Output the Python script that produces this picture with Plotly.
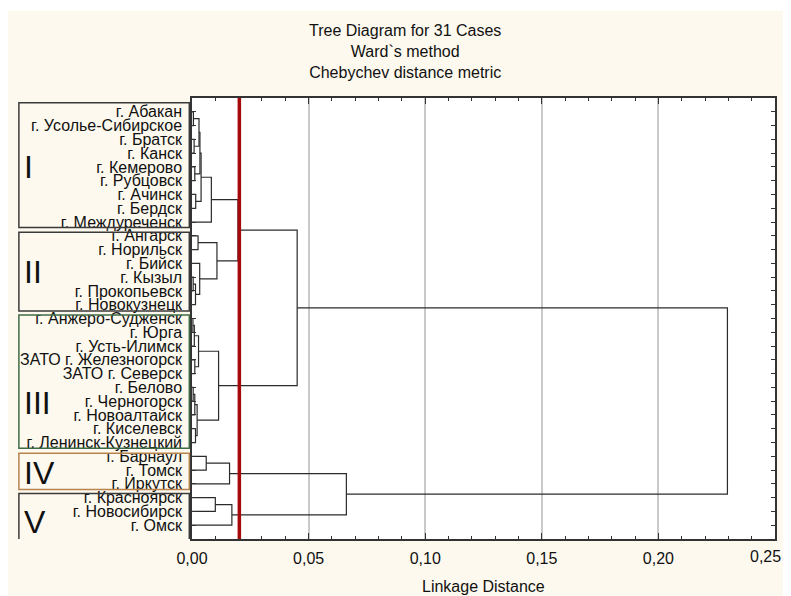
import plotly.graph_objects as go

# ---------------- data ----------------
leaf_names = [
    "г. Абакан", "г. Усолье-Сибирское", "г. Братск", "г. Канск", "г. Кемерово",
    "г. Рубцовск", "г. Ачинск", "г. Бердск", "г. Междуреченск",
    "г. Ангарск", "г. Норильск", "г. Бийск", "г. Кызыл", "г. Прокопьевск",
    "г. Новокузнецк",
    "г. Анжеро-Судженск", "г. Юрга", "г. Усть-Илимск", "ЗАТО г. Железногорск",
    "ЗАТО г. Северск", "г. Белово", "г. Черногорск", "г. Новоалтайск",
    "г. Киселевск", "г. Ленинск-Кузнецкий",
    "г. Барнаул", "г. Томск", "г. Иркутск",
    "г. Красноярск", "г. Новосибирск", "г. Омск",
]

# linkage: (cluster a, cluster b, linkage distance); new cluster id = 31 + row index
merge_a = [0, 2, 31, 4, 33, 6, 35, 37, 9, 12, 40, 11, 39, 38,
           15, 45, 18, 46, 20, 49, 23, 50, 48, 44, 25, 55, 28, 57, 56, 54]
merge_b = [1, 3, 32, 5, 34, 7, 36, 8, 10, 13, 14, 41, 42, 43,
           16, 17, 19, 47, 21, 22, 24, 51, 52, 53, 26, 27, 29, 30, 58, 59]
merge_h = [0.0006, 0.0009, 0.0030, 0.0012, 0.0034, 0.0016, 0.0039, 0.0083,
           0.0026, 0.0005, 0.0015, 0.0033, 0.0107, 0.0197,
           0.0004, 0.0010, 0.0012, 0.0028, 0.0005, 0.0012, 0.0015, 0.0022,
           0.0114, 0.0451, 0.0061, 0.0161, 0.0100, 0.0171, 0.0662, 0.2296]

cut_distance = 0.0203

group_labels = ["I", "II", "III", "IV", "V"]
group_first = [0, 9, 15, 25, 28]
group_last = [8, 14, 24, 27, 30]

x_ticks = [0.00, 0.05, 0.10, 0.15, 0.20, 0.25]


def fmt(v):
    return f"{v:.2f}".replace(".", ",")


# ---------------- geometry from the linkage ----------------
n = len(leaf_names)
pos = {i: float(i) for i in range(n)}
hgt = {i: 0.0 for i in range(n)}
xs, ys = [], []
for k, (a, b, h) in enumerate(zip(merge_a, merge_b, merge_h)):
    xs += [hgt[a], h, h, hgt[b], None]
    ys += [pos[a], pos[a], pos[b], pos[b], None]
    pos[n + k] = (pos[a] + pos[b]) / 2
    hgt[n + k] = h

FONT = "Liberation Sans, Arial, sans-serif"
CREAM = "#fdf9ee"

fig = go.Figure()
fig.add_trace(go.Scatter(x=xs, y=ys, mode="lines",
                         line=dict(color="#2b2b2b", width=1.2),
                         hoverinfo="skip", showlegend=False))

# page layout (page has an 8px body margin)
OX, OY = 8, 8
FW, FH = 791 - OX, 596 - OY
PL, PR, PT, PB = 191.7, 775.0, 98.3, 539.3   # plot area in page pixels
W = PR - PL
H = PB - PT


def px(x):
    return (x - PL) / W


def py(y):
    return (PB - y) / H


shapes = []
# thin white strip at the very top of the page
shapes.append(dict(type="rect", xref="paper", yref="paper", x0=px(0), x1=px(800),
                   y0=py(11), y1=py(0), fillcolor="white", line=dict(width=0), layer="below"))

# group boxes
box_colors = ["#3a3a3a", "#3a3a3a", "#3f6b46", "#b7834f", "#3a3a3a"]
top_pad = [0.65, 0.25, 0.25, 0.22, 0.3]
bot_pad = [0.4, 0.45, 0.42, 0.4, 1.1]
numeral_rows = [4.0, 11.6, 21.1, 26.2, 29.8]
annotations = []
for i, lab in enumerate(group_labels):
    shapes.append(dict(type="rect", xref="paper", yref="y",
                       x0=px(18.5), x1=px(189),
                       y0=group_first[i] - top_pad[i], y1=group_last[i] + bot_pad[i],
                       line=dict(color=box_colors[i], width=1.5), fillcolor="rgba(0,0,0,0)"))
    annotations.append(dict(text=lab, xref="paper", yref="y", x=px(22), y=numeral_rows[i],
                            xanchor="left", yanchor="middle", showarrow=False,
                            font=dict(family=FONT, size=32, color="#111111")))

# cut line
shapes.append(dict(type="line", xref="x", yref="paper", x0=cut_distance, x1=cut_distance,
                   y0=0, y1=1, line=dict(color="#a50a0a", width=3.5), layer="above"))

annotations.append(dict(text="Tree Diagram for 31 Cases<br>Ward`s method<br>Chebychev distance metric",
                        xref="paper", yref="paper", x=px(405), y=py(52),
                        xanchor="center", yanchor="middle", showarrow=False, align="center",
                        font=dict(family=FONT, size=16, color="#111111")))
annotations.append(dict(text="Linkage Distance", xref="paper", yref="paper",
                        x=0.5, y=py(587), xanchor="center", yanchor="middle", showarrow=False,
                        font=dict(family=FONT, size=16, color="#111111")))
# last x tick label (kept inside the page edge)
annotations.append(dict(text=fmt(x_ticks[-1]), xref="x", yref="paper", x=x_ticks[-1], xshift=-10,
                        y=py(557), xanchor="center", yanchor="middle", showarrow=False,
                        font=dict(family=FONT, size=16, color="#111111")))

tick_text = [fmt(v) for v in x_ticks[:-1]] + [""]

fig.update_layout(
    width=FW, height=FH,
    margin=dict(l=PL - OX, r=791 - PR, t=PT - OY, b=596 - PB, pad=0),
    paper_bgcolor=CREAM, plot_bgcolor="white",
    shapes=shapes, annotations=annotations,
    showlegend=False,
    font=dict(family=FONT, color="#111111"),
)
fig.update_xaxes(
    range=[0, 0.25], tickvals=x_ticks, ticktext=tick_text,
    showgrid=True, gridcolor="#c9c9c9", gridwidth=1.5, zeroline=False,
    showline=True, linecolor="#333333", linewidth=1.5, mirror="ticks",
    ticks="inside", ticklen=6, tickcolor="#333333", tickwidth=1,
    minor=dict(dtick=0.01, ticks="inside", ticklen=3, tickcolor="#333333", showgrid=False),
    tickfont=dict(family=FONT, size=16, color="#111111"),
    ticklabelstandoff=4, automargin=False,
)
fig.update_yaxes(
    range=[n, -1], tickvals=list(range(n)), ticktext=leaf_names,
    showgrid=False, zeroline=False,
    showline=True, linecolor="#333333", linewidth=1.5, mirror="ticks",
    ticks="inside", ticklen=4, tickcolor="#333333", tickwidth=1,
    tickfont=dict(family=FONT, size=16, color="#111111"),
    ticklabelstandoff=5, automargin=False,
)

fig.write_html("out.html")
